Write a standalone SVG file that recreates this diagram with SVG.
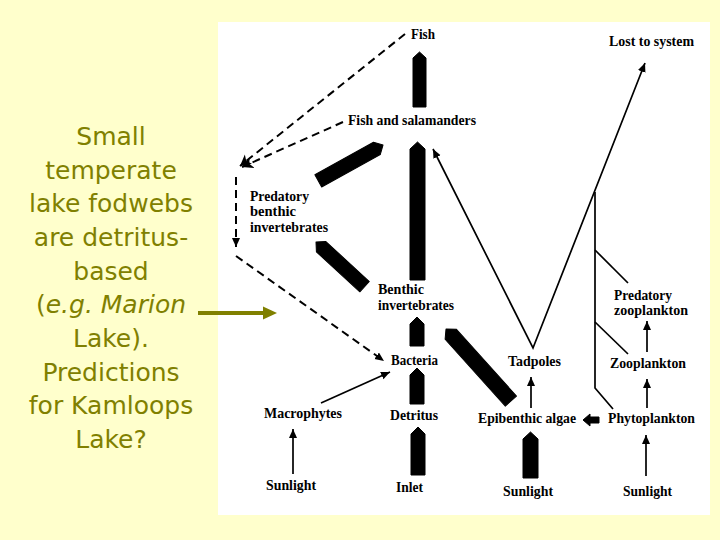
<svg xmlns="http://www.w3.org/2000/svg" width="720" height="540" viewBox="0 0 720 540">
<style>
.lbl{font-family:"Liberation Serif","Times New Roman",serif;font-weight:bold;font-size:14px;fill:#000}
.side{font-family:"DejaVu Sans","Comic Sans MS",sans-serif;font-size:25px;fill:#808000;text-anchor:middle}
.thin{stroke:#000;stroke-width:1.7;fill:none}
.dash{stroke:#000;stroke-width:2;fill:none;stroke-dasharray:8 5}
.blk{fill:#000;stroke:#000;stroke-width:1;stroke-linejoin:round}
</style>
<defs>
<marker id="ah" markerUnits="userSpaceOnUse" markerWidth="10" markerHeight="10" refX="9" refY="4" orient="auto-start-reverse"><path d="M0,0 L9,4 L0,8 z" fill="#000"/></marker>
<marker id="ahb" markerUnits="userSpaceOnUse" markerWidth="14" markerHeight="14" refX="11" refY="6" orient="auto"><path d="M0,0 L11,6 L0,12 L3,6 z" fill="#000"/></marker>
</defs>
<rect width="720" height="540" fill="#FFFFCC"/>
<rect x="218" y="22" width="492" height="493" fill="#FFFFFF"/>

<g id="caption">
<text class="side" x="111" y="145">Small</text>
<text class="side" x="111" y="179">temperate</text>
<text class="side" x="111" y="212">lake fodwebs</text>
<text class="side" x="111" y="246">are detritus-</text>
<text class="side" x="111" y="280">based</text>
<text class="side" x="111" y="313">(<tspan font-style="italic">e.g. Marion</tspan></text>
<text class="side" x="111" y="347">Lake).</text>
<text class="side" x="111" y="381">Predictions</text>
<text class="side" x="111" y="414">for Kamloops</text>
<text class="side" x="111" y="448">Lake?</text>
</g>
<g id="pointer">
<line x1="198" y1="313" x2="266" y2="313" stroke="#808000" stroke-width="4"/>
<polygon points="263,306.5 277,313 263,319.5" fill="#808000"/>
</g>

<g id="connectors">
<!-- block arrows -->
<polygon class="blk" points="413,107 413,58 419.5,52 426,58 426,107"/>
<polygon class="blk" points="410,280 410,149 417.5,142 425,149 425,280"/>
<polygon class="blk" points="410,346 410,324 417,317 424,324 424,346"/>
<polygon class="blk" points="410,404 410,375 417,368 424,375 424,404"/>
<polygon class="blk" points="411,475 411,434 418,427 425,434 425,475"/>
<polygon class="blk" points="523,478 523,439 530.5,432 538,439 538,478"/>
<polygon class="blk" transform="translate(383,145) rotate(61)" points="-7,74 -7,7 0,0 7,7 7,74"/>
<polygon class="blk" transform="translate(316,242) rotate(-47.4)" points="-7,66 -7,7 0,0 7,7 7,66"/>
<polygon class="blk" transform="translate(446,329) rotate(-42)" points="-7.5,97 -7.5,7 0,0 7.5,7 7.5,97"/>
<polygon class="blk" points="583,420 590,414 590,417 599,417 599,423 590,423 590,426"/>
<!-- thin arrows -->
<line class="thin" x1="293" y1="474" x2="293" y2="429" marker-end="url(#ah)"/>
<line class="thin" x1="321" y1="403" x2="390" y2="372" marker-end="url(#ah)"/>
<line class="thin" x1="531" y1="408" x2="531" y2="377" marker-end="url(#ah)"/>
<line class="thin" x1="647" y1="408" x2="647" y2="379" marker-end="url(#ah)"/>
<line class="thin" x1="647" y1="352" x2="647" y2="321" marker-end="url(#ah)"/>
<line class="thin" x1="646" y1="476" x2="646" y2="435" marker-end="url(#ah)"/>
<polyline class="thin" points="433,149 533,348 645,63" marker-start="url(#ah)" marker-end="url(#ah)"/>
<polyline class="thin" points="595,192 595,388 613,409"/>
<line class="thin" x1="595" y1="250" x2="628" y2="283"/>
<line class="thin" x1="595" y1="322" x2="628" y2="354"/>
<!-- dashed -->
<line class="dash" x1="405" y1="34" x2="240" y2="166" marker-end="url(#ahb)"/>
<line class="dash" x1="343" y1="122" x2="242" y2="167" marker-end="url(#ahb)"/>
<line class="dash" x1="236" y1="177" x2="236" y2="247" marker-end="url(#ah)"/>
<line class="dash" x1="236" y1="256" x2="384" y2="361" marker-end="url(#ah)"/>
</g>

<g id="n-fish"><text class="lbl" x="411" y="39" textLength="24" lengthAdjust="spacingAndGlyphs">Fish</text></g>
<g id="n-lost"><text class="lbl" x="609" y="46" textLength="85" lengthAdjust="spacingAndGlyphs">Lost to system</text></g>
<g id="n-fishsal"><text class="lbl" x="348" y="125" textLength="128" lengthAdjust="spacingAndGlyphs">Fish and salamanders</text></g>
<g id="n-predbenth">
<text class="lbl" x="250" y="201" textLength="59" lengthAdjust="spacingAndGlyphs">Predatory</text>
<text class="lbl" x="250" y="216" textLength="46" lengthAdjust="spacingAndGlyphs">benthic</text>
<text class="lbl" x="250" y="232" textLength="78" lengthAdjust="spacingAndGlyphs">invertebrates</text>
</g>
<g id="n-benth">
<text class="lbl" x="378" y="294" textLength="46" lengthAdjust="spacingAndGlyphs">Benthic</text>
<text class="lbl" x="378" y="310" textLength="76" lengthAdjust="spacingAndGlyphs">invertebrates</text>
</g>
<g id="n-bact"><text class="lbl" x="391" y="365" textLength="47" lengthAdjust="spacingAndGlyphs">Bacteria</text></g>
<g id="n-macro"><text class="lbl" x="264" y="418" textLength="78" lengthAdjust="spacingAndGlyphs">Macrophytes</text></g>
<g id="n-detr"><text class="lbl" x="390" y="420" textLength="48" lengthAdjust="spacingAndGlyphs">Detritus</text></g>
<g id="n-sun1"><text class="lbl" x="266" y="490" textLength="50" lengthAdjust="spacingAndGlyphs">Sunlight</text></g>
<g id="n-inlet"><text class="lbl" x="396" y="492" textLength="27" lengthAdjust="spacingAndGlyphs">Inlet</text></g>
<g id="n-tad"><text class="lbl" x="508" y="366" textLength="53" lengthAdjust="spacingAndGlyphs">Tadpoles</text></g>
<g id="n-epi"><text class="lbl" x="478" y="423" textLength="98" lengthAdjust="spacingAndGlyphs">Epibenthic algae</text></g>
<g id="n-phyto"><text class="lbl" x="608" y="423" textLength="87" lengthAdjust="spacingAndGlyphs">Phytoplankton</text></g>
<g id="n-sun2"><text class="lbl" x="503" y="496" textLength="50" lengthAdjust="spacingAndGlyphs">Sunlight</text></g>
<g id="n-sun3"><text class="lbl" x="623" y="496" textLength="49" lengthAdjust="spacingAndGlyphs">Sunlight</text></g>
<g id="n-zoo"><text class="lbl" x="610" y="368" textLength="76" lengthAdjust="spacingAndGlyphs">Zooplankton</text></g>
<g id="n-predzoo">
<text class="lbl" x="614" y="300" textLength="58" lengthAdjust="spacingAndGlyphs">Predatory</text>
<text class="lbl" x="614" y="315" textLength="74" lengthAdjust="spacingAndGlyphs">zooplankton</text>
</g>
</svg>
